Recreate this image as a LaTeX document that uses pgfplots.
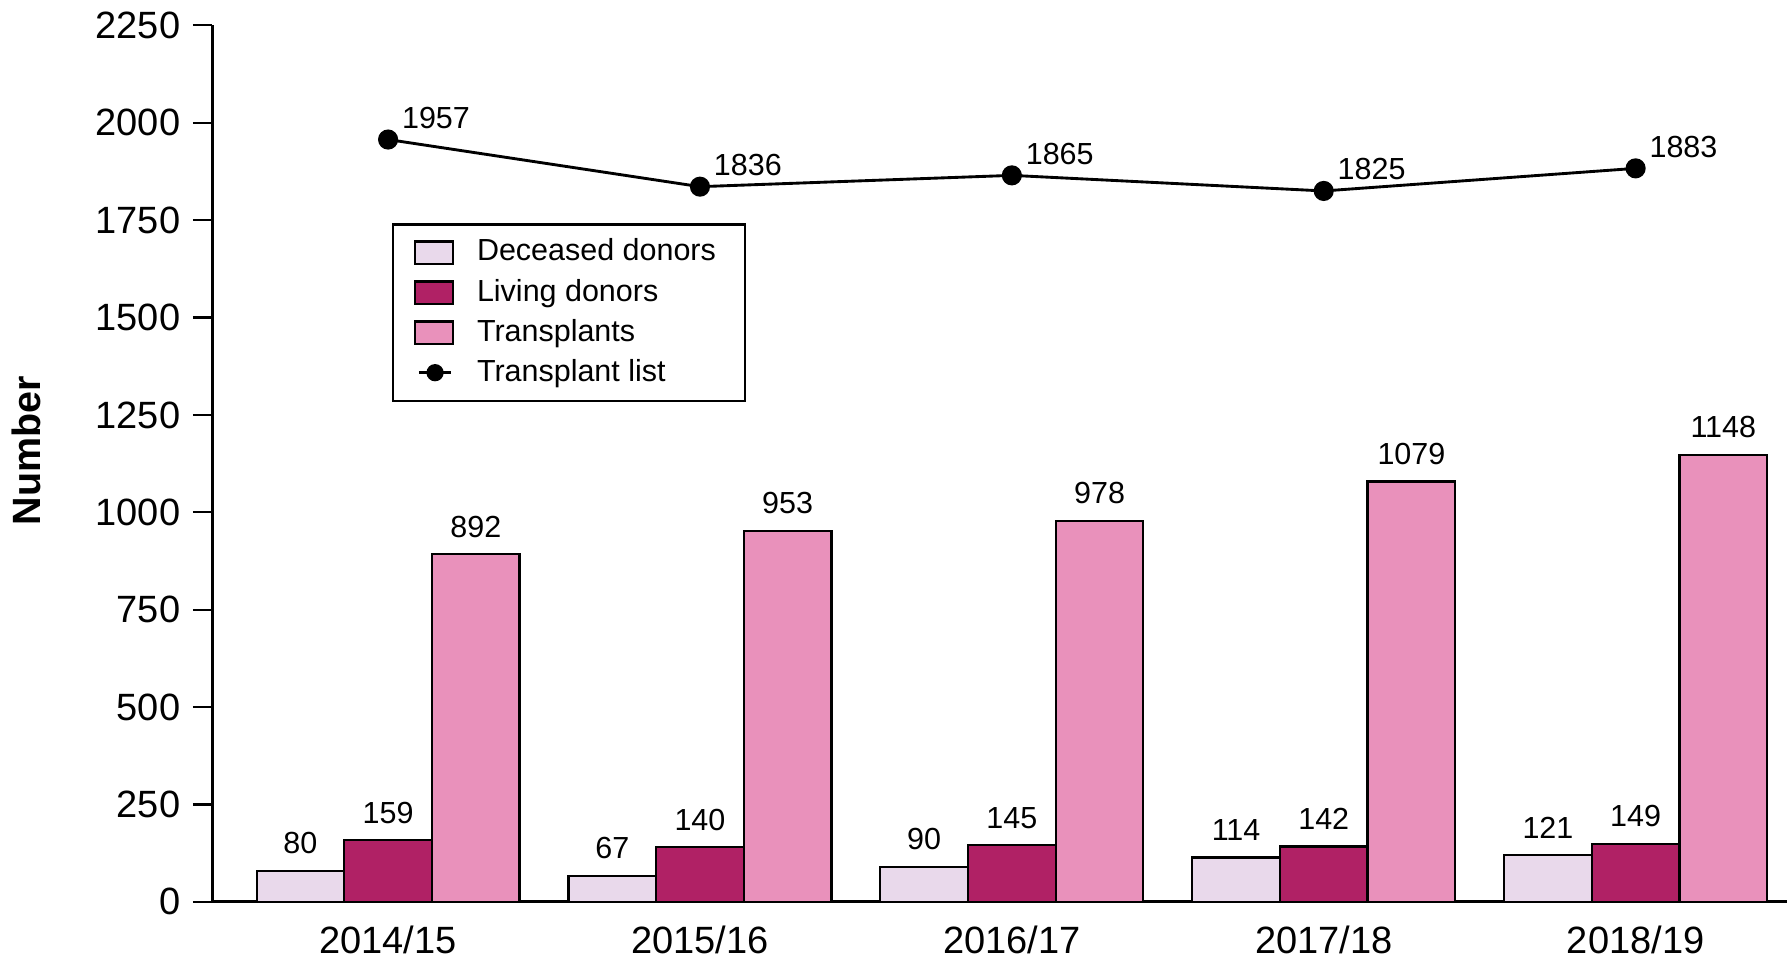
\documentclass[border=0pt]{standalone}
\usepackage{pgfplots}
\pgfplotsset{compat=1.18}
\usepackage{fontspec}
\setmainfont{Liberation Sans}
\definecolor{decC}{RGB}{233,217,235}
\definecolor{livC}{RGB}{176,33,101}
\definecolor{trC}{RGB}{233,145,187}
\pgfplotsset{
  boxlegend/.style={legend image code/.code={\draw[##1,/tikz/.cd,line width=0.6pt] (0pt,-3.1pt) rectangle (10.4pt,3.1pt);}},
  linelegend/.style={legend image code/.code={\draw[mark repeat=2,mark phase=2,##1,mark size=2pt] plot coordinates {(1pt,0pt) (5.5pt,0pt) (10pt,0pt)};}},
  barlabel/.style={nodes near coords, every node near coord/.append style={anchor=south, font=\fontsize{8.5}{10}\selectfont, yshift=1pt, xshift=#1, text=black}},
}
\begin{document}
\begin{tikzpicture}
\begin{axis}[
  scale only axis, width=439pt, height=244.4pt,
  xmin=-0.564, xmax=4.484, ymin=0, ymax=2250,
  axis x line=bottom, axis y line=left,
  axis line style={-, line width=0.8pt, black},
  xtick={0,1,2,3,4},
  xticklabels={2014/15,2015/16,2016/17,2017/18,2018/19},
  x tick style={draw=none},
  xticklabel style={font=\fontsize{10.6}{12}\selectfont, inner ysep=1.5pt, yshift=0.5pt},
  ytick={0,250,...,2250},
  y tick style={line width=0.6pt, black},
  tick align=outside, major tick length=5.4pt,
  yticklabel style={font=\fontsize{10.6}{12}\selectfont},
  /pgf/number format/assume math mode=true,
  /pgf/number format/1000 sep={},
  ylabel={Number},
  ylabel style={at={(axis description cs:-0.118,0.515)}, anchor=center, font=\fontsize{11}{13}\selectfont\bfseries},
  legend style={at={(0.114,0.774)}, anchor=north west, draw=black, line width=0.6pt,
    font=\fontsize{8.5}{10}\selectfont, inner xsep=6pt, inner ysep=2pt, row sep=-0.5pt, cells={anchor=west},
    /tikz/every odd column/.append style={column sep=4.5pt}},
  legend cell align=left,
  clip=false,
]
\addplot[ybar, bar width=0.281, bar shift=-0.281, fill=decC, draw=black, line width=0.6pt, boxlegend, barlabel=-24.45pt]
  coordinates {(0,80) (1,67) (2,90) (3,114) (4,121)};
\addlegendentry{Deceased donors}
\addplot[ybar, bar width=0.281, bar shift=0, fill=livC, draw=black, line width=0.6pt, boxlegend, barlabel=0pt]
  coordinates {(0,159) (1,140) (2,145) (3,142) (4,149)};
\addlegendentry{Living donors}
\addplot[ybar, bar width=0.281, bar shift=0.281, fill=trC, draw=black, line width=0.6pt, boxlegend, barlabel=24.45pt]
  coordinates {(0,892) (1,953) (2,978) (3,1079) (4,1148)};
\addlegendentry{Transplants}
\addplot[black, line width=0.8pt, mark=*, mark size=2.4pt, mark options={fill=black}, linelegend,
  nodes near coords, every node near coord/.append style={anchor=south west, inner sep=0pt, xshift=3.5pt, yshift=2.6pt, font=\fontsize{8.5}{10}\selectfont}]
  coordinates {(0,1957) (1,1836) (2,1865) (3,1825) (4,1883)};
\addlegendentry{Transplant list}
\end{axis}
\end{tikzpicture}
\end{document}
